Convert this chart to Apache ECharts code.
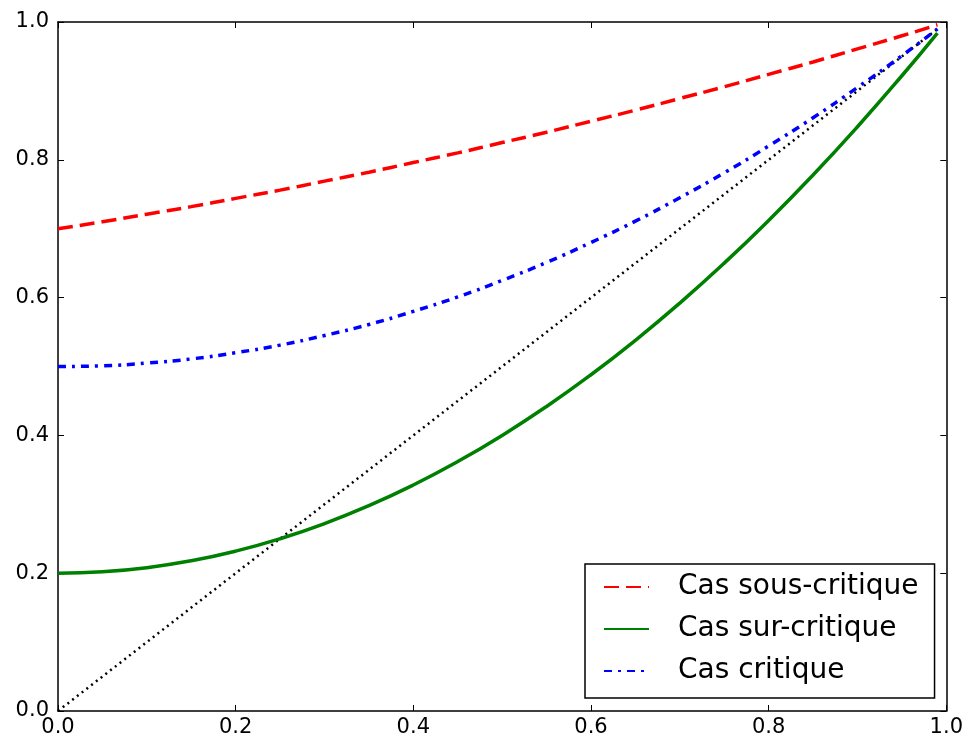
<!DOCTYPE html>
<html>
<head>
<meta charset="utf-8">
<script src="https://cdn.jsdelivr.net/npm/echarts@6/dist/echarts.min.js"></script>
<style>
  html, body { margin: 0; padding: 0; background: #fff; }
  #myechart { width: 966px; height: 740px; }
</style>
</head>
<body>
<div id="myechart"></div>
<script>
// values
var xs = [0, 0.05, 0.1, 0.15, 0.2, 0.25, 0.3, 0.35, 0.4, 0.45, 0.5, 0.55, 0.6, 0.65, 0.7, 0.75, 0.8, 0.85, 0.9, 0.95, 0.99];
var sousCritique = [0.700, 0.710, 0.721, 0.732, 0.744, 0.756, 0.769, 0.782, 0.796, 0.810, 0.825, 0.840, 0.856, 0.872, 0.889, 0.906, 0.924, 0.942, 0.961, 0.980, 0.996];
var surCritique = [0.200, 0.202, 0.208, 0.218, 0.232, 0.250, 0.272, 0.298, 0.328, 0.362, 0.400, 0.442, 0.488, 0.538, 0.592, 0.650, 0.712, 0.778, 0.848, 0.922, 0.984];
var critique = [0.500, 0.501, 0.505, 0.511, 0.520, 0.531, 0.545, 0.561, 0.580, 0.601, 0.625, 0.651, 0.680, 0.711, 0.745, 0.781, 0.820, 0.861, 0.905, 0.951, 0.990];
var diagX = [0, 0.99];
var diagY = [0, 0.99];
var names = ['Cas sous-critique', 'Cas sur-critique', 'Cas critique'];

function pairs(x, y) {
  var out = [];
  for (var i = 0; i < x.length; i++) out.push([x[i], y[i]]);
  return out;
}

var font = 'DejaVu Sans';
var tick = { show: true, inside: true, length: 6, lineStyle: { color: '#000', width: 1 } };

function axis(pos, labels) {
  return {
    type: 'value', position: pos, min: 0, max: 1, interval: 0.2,
    axisLine: { show: true, onZero: false, lineStyle: { color: '#000', width: 1.5 } },
    axisTick: tick,
    splitLine: { show: false },
    axisLabel: {
      show: labels, color: '#000', fontFamily: font, fontSize: 21,
      margin: pos === 'bottom' ? 6 : 9,
      formatter: function (v) { return v.toFixed(1); }
    }
  };
}

var myechart = echarts.init(document.getElementById('myechart'));
myechart.setOption({
  animation: false,
  backgroundColor: '#fff',
  grid: { left: 58, right: 18, top: 22, bottom: 29, containLabel: false },
  xAxis: [axis('bottom', true), axis('top', false)],
  yAxis: [axis('left', true), axis('right', false)],
  legend: {
    data: names,
    orient: 'vertical',
    left: 585, top: 564,
    padding: [8, 16, 12, 18],
    itemWidth: 45, itemHeight: 14, itemGap: 12,
    itemStyle: { opacity: 0 },
    backgroundColor: '#fff',
    borderColor: '#000', borderWidth: 1.5, borderRadius: 0,
    textStyle: { fontFamily: font, fontSize: 28, color: '#000', lineHeight: 30, padding: [0, 0, 0, 24] }
  },
  series: [
    {
      name: 'diag', type: 'line', data: pairs(diagX, diagY), symbol: 'none',
      lineStyle: { color: '#000', width: 2.5, type: [2, 4] }, z: 1
    },
    {
      name: names[0], type: 'line', data: pairs(xs, sousCritique), smooth: true, symbol: 'none',
      itemStyle: { color: '#ff0000' },
      lineStyle: { color: '#ff0000', width: 3.5, type: [15, 7] }
    },
    {
      name: names[1], type: 'line', data: pairs(xs, surCritique), smooth: true, symbol: 'none',
      itemStyle: { color: '#008000' },
      lineStyle: { color: '#008000', width: 3.5 }
    },
    {
      name: names[2], type: 'line', data: pairs(xs, critique), smooth: true, symbol: 'none',
      itemStyle: { color: '#0000ff' },
      lineStyle: { color: '#0000ff', width: 3.5, type: [8, 6, 3, 6] }
    }
  ]
});
</script>
</body>
</html>
